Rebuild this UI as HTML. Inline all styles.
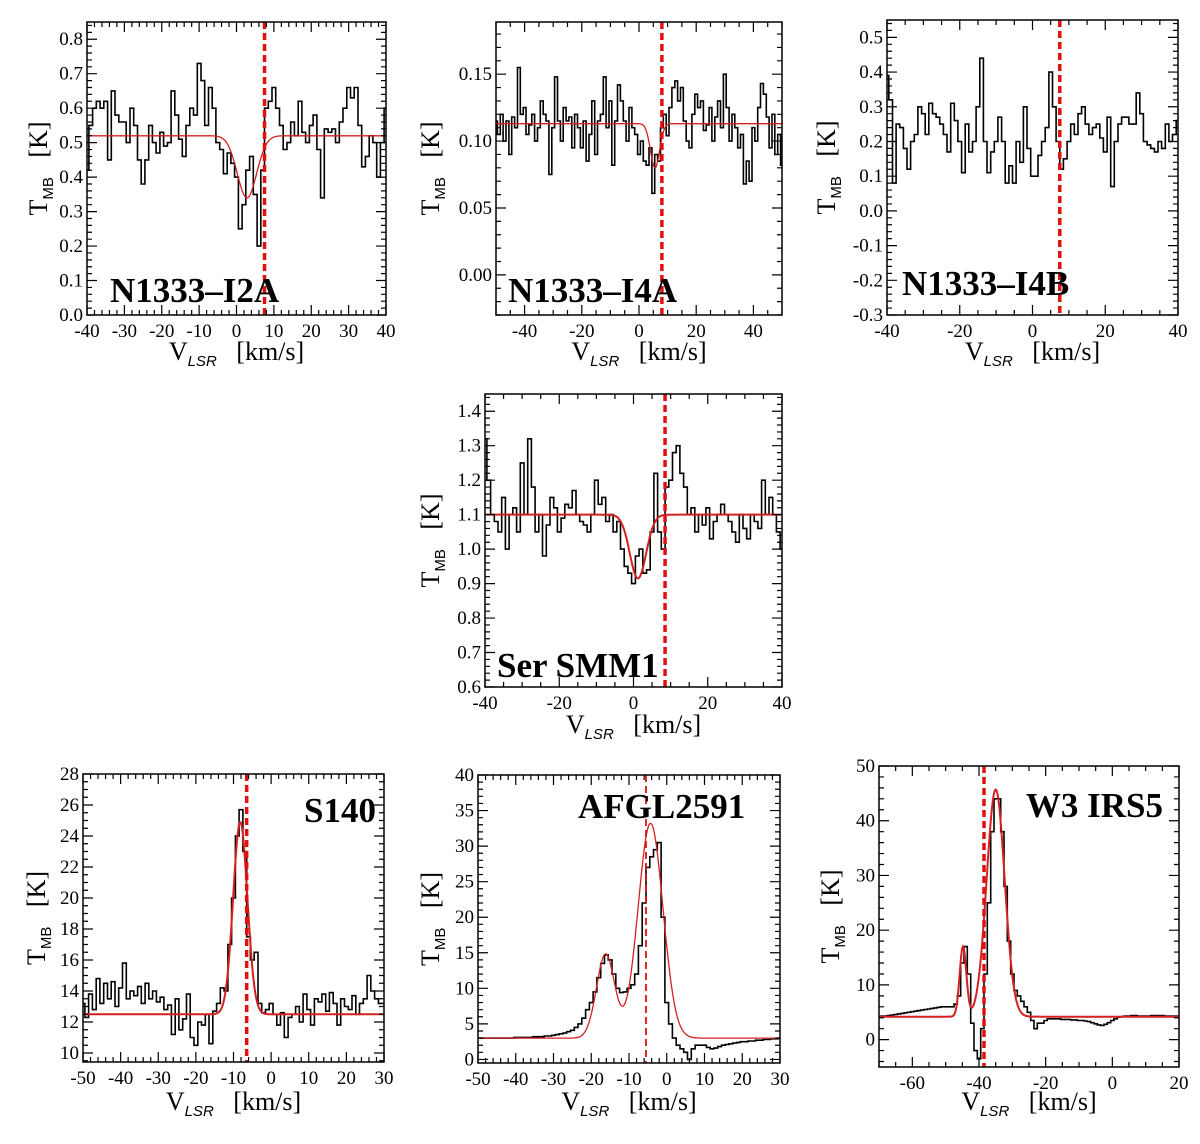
<!DOCTYPE html>
<html><head><meta charset="utf-8"><style>
html,body{margin:0;padding:0;background:#fff;}
svg{display:block;font-family:"Liberation Serif",serif;}
text{white-space:pre;}
</style></head><body>
<svg id="fig" width="1200" height="1144" viewBox="0 0 1200 1144" xmlns="http://www.w3.org/2000/svg"></svg>
<script>
// ---- data: observed spectra (1 km/s channels starting at vStart) ----
const i2aStart = -40;
const i2aTmb = [0.42,0.55,0.6,0.62,0.6,0.62,0.45,0.65,0.58,0.56,0.56,0.5,0.6,0.55,0.45,0.38,0.45,0.55,0.5,0.47,0.53,0.49,0.5,0.65,0.58,0.51,0.46,0.55,0.6,0.58,0.73,0.68,0.55,0.66,0.6,0.5,0.48,0.41,0.47,0.44,0.4,0.25,0.32,0.42,0.46,0.35,0.2,0.42,0.6,0.62,0.66,0.6,0.55,0.48,0.5,0.56,0.52,0.62,0.53,0.5,0.55,0.58,0.48,0.34,0.54,0.53,0.54,0.5,0.56,0.6,0.66,0.63,0.66,0.55,0.43,0.46,0.52,0.5,0.4,0.5,0.6];
const i4aStart = -50;
const i4aTmb = [0.115,0.105,0.12,0.10,0.115,0.09,0.118,0.11,0.155,0.12,0.125,0.105,0.112,0.12,0.10,0.11,0.13,0.12,0.115,0.075,0.11,0.148,0.115,0.1,0.125,0.115,0.118,0.095,0.12,0.11,0.095,0.115,0.085,0.105,0.13,0.09,0.115,0.12,0.148,0.11,0.13,0.082,0.115,0.142,0.13,0.115,0.1,0.125,0.11,0.105,0.09,0.1,0.085,0.082,0.095,0.061,0.09,0.085,0.11,0.12,0.104,0.125,0.14,0.145,0.13,0.14,0.115,0.1,0.095,0.12,0.135,0.125,0.13,0.108,0.112,0.125,0.1,0.118,0.13,0.11,0.15,0.125,0.1,0.12,0.11,0.095,0.105,0.068,0.085,0.07,0.11,0.1,0.125,0.143,0.135,0.118,0.095,0.12,0.09,0.105,0.082];
const i4bStart = -40;
const i4bTmb = [0.39,0.32,0.08,0.25,0.24,0.18,0.12,0.2,0.22,0.3,0.28,0.22,0.31,0.28,0.27,0.25,0.22,0.17,0.31,0.26,0.2,0.11,0.25,0.17,0.2,0.3,0.44,0.2,0.11,0.17,0.2,0.27,0.2,0.08,0.13,0.08,0.2,0.14,0.3,0.18,0.1,0.1,0.16,0.2,0.24,0.4,0.3,0.2,0.12,0.15,0.2,0.25,0.22,0.28,0.3,0.25,0.22,0.24,0.25,0.21,0.17,0.27,0.07,0.2,0.25,0.27,0.27,0.25,0.25,0.34,0.28,0.2,0.19,0.18,0.17,0.2,0.18,0.25,0.2,0.22,0.26];
const smmStart = -40;
const smmTmb = [1.32,1.2,1.1,1.08,1.05,1.15,1.0,1.1,1.12,1.05,1.25,1.1,1.32,1.18,1.05,1.1,0.98,1.07,1.15,1.12,1.05,1.09,1.13,1.12,1.17,1.1,1.08,1.07,1.05,1.1,1.2,1.13,1.15,1.08,1.1,1.05,1.08,1.0,0.95,0.93,0.9,0.98,1.0,0.93,0.94,1.05,1.22,1.05,1.0,1.18,1.2,1.28,1.3,1.22,1.18,1.1,1.12,1.05,1.1,1.07,1.12,1.03,1.08,1.1,1.13,1.1,1.08,1.05,1.02,1.1,1.06,1.03,1.1,1.08,1.06,1.2,1.1,1.15,1.1,1.05,1.0];
const s140Start = -50;
const s140Tmb = [13.2,12.3,13.8,12.8,14.8,13.2,14.5,13.5,14.6,13,14.2,15.8,13.5,14,13.7,14.3,13.2,14.5,13.5,14,13.3,13.6,12.8,13.1,11.2,13.5,11.5,12.2,13.8,11,10.5,12,11.8,12.5,10.6,12.7,13.2,14.2,14,17,20,24,25.7,23,17.5,16,16.5,13.2,12.6,12.8,13.2,12.5,11.8,12.6,11,12.3,12.5,13,12,13.8,12.8,11.8,13.5,13.3,13.8,12.7,13.9,13.2,11.8,13.5,13,12.8,13.7,12.5,13.2,13.5,15,14,13.5,13.2,13.2];
const afglStart = -50;
const afglTmb = [3,3,3,3,3,3,3,3,3,3,3.1,3.1,3.1,3.1,3.1,3.2,3.2,3.2,3.3,3.3,
 3.4,3.5,3.6,3.7,3.9,4.1,4.5,5,5.8,7,
 8,9.5,11.5,13.5,14.7,14,12,10,9.4,9.5,
 10,10.5,12,16,22,27,28.5,29.5,30.5,20,
 8,5,3,2,1.5,1,0,1.5,2,2,
 2,1.7,1.5,1.6,1.8,2,2.1,2.2,2.3,2.4,
 2.5,2.5,2.6,2.6,2.7,2.7,2.8,2.8,2.9,2.9,3];
const w3Start = -70;
const w3Tmb = [4.2,4.3,4.3,4.4,4.5,4.6,4.7,4.8,4.9,5,5.1,5.2,5.3,5.4,5.5,5.6,5.7,5.8,5.9,6,
 6,6,6,6.5,8,14,17,12,3,-2,
 -3.5,2,12,25,38,44,44,38,28,18,
 12,9,8,7,6,5,3.5,2,3,3,
 3.5,3.8,3.8,3.8,3.8,3.7,3.7,3.7,3.6,3.6,
 3.5,3.5,3.4,3.3,3.1,2.9,2.7,2.6,2.8,3.1,
 3.5,3.8,4.1,4.2,4.3,4.3,4.4,4.4,4.3,4.3,4.3,4.3,4.4,4.4,4.4,4.4,4.3,4.3,4.3,4.3,4.3];
// ---- data: gaussian fits (baseline, amplitudes, centres, sigmas) ----
const fitBase = {i2a:0.52, i4a:0.113, smm:1.1, s140:12.5, afgl:3.0, w3:4.2};
const fitAmp  = {i2a:[-0.18], i4a:[-0.033], smm:[-0.185], s140:[12.4], afgl:[11.8,30.2], w3:[12.8,41.5]};
const fitCen  = {i2a:[2.8], i4a:[5.6], smm:[1.2], s140:[-8.2], afgl:[-16.2,-4.3], w3:[-44.8,-35]};
const fitSig  = {i2a:[2.6], i4a:[1.6], smm:[2.2], s140:[1.9], afgl:[2.4,3.3], w3:[1.0,2.7]};
// ---- data: systemic velocities (dashed lines) ----
const vsys = {i2a:7.5, i4a:8.0, i4b:7.5, smm:8.5, s140:-6.5, afgl:-5.5, w3:-38.5};

const NS="http://www.w3.org/2000/svg";
const svg=document.getElementById('fig');
function mk(tag,attrs,parent){const e=document.createElementNS(NS,tag);for(const k in attrs)e.setAttribute(k,attrs[k]);(parent||svg).appendChild(e);return e;}

const panels=[
 {id:'i2a',title:'N1333–I2A',fx0:87,fx1:386,fy0:22,fy1:315,xr:[-40,40],yr:[0,0.85],xt:[-40,40,10],xm:2,yt:[0,0.8,0.1],ym:0.02,yd:1,data:i2aTmb,v0:i2aStart,tx:110,ty:302,anchor:'start',ytx:38,xty:360,dashW:3.5},
 {id:'i4a',title:'N1333–I4A',fx0:496,fx1:782,fy0:22,fy1:315,xr:[-50,50],yr:[-0.03,0.189],xt:[-40,40,20],xm:5,yt:[0,0.15,0.05],ym:0.01,yd:2,data:i4aTmb,v0:i4aStart,tx:508,ty:302,anchor:'start',ytx:430,xty:360,dashW:3.5},
 {id:'i4b',title:'N1333–I4B',fx0:887,fx1:1178,fy0:20,fy1:315,xr:[-40,40],yr:[-0.3,0.55],xt:[-40,40,20],xm:5,yt:[-0.3,0.5,0.1],ym:0.02,yd:1,data:i4bTmb,v0:i4bStart,tx:902,ty:295,anchor:'start',ytx:826,xty:360,dashW:3.5},
 {id:'smm',title:'Ser SMM1',fx0:485,fx1:782,fy0:394,fy1:687,xr:[-40,40],yr:[0.6,1.45],xt:[-40,40,20],xm:5,yt:[0.6,1.4,0.1],ym:0.02,yd:1,data:smmTmb,v0:smmStart,tx:497,ty:677,anchor:'start',ytx:430,xty:733,dashW:3.5},
 {id:'s140',title:'S140',fx0:83,fx1:384,fy0:774,fy1:1062,xr:[-50,30],yr:[9.42,28],xt:[-50,30,10],xm:2,yt:[10,28,2],ym:0.5,yd:0,data:s140Tmb,v0:s140Start,tx:376,ty:822,anchor:'end',ytx:36,xty:1110,dashW:3.5},
 {id:'afgl',title:'AFGL2591',fx0:478,fx1:780,fy0:775,fy1:1063,xr:[-50,30],yr:[-0.5,40],xt:[-50,30,10],xm:2,yt:[0,40,5],ym:1,yd:0,data:afglTmb,v0:afglStart,tx:578,ty:818,anchor:'start',ytx:430,xty:1110,dashW:1.8},
 {id:'w3',title:'W3 IRS5',fx0:879,fx1:1179,fy0:766,fy1:1067,xr:[-70,20],yr:[-5,50],xt:[-60,20,20],xm:5,yt:[0,50,10],ym:2,yd:0,data:w3Tmb,v0:w3Start,tx:1163,ty:817,anchor:'end',ytx:830,xty:1110,dashW:3.5}
];

panels.forEach(p=>{
 const g=mk('g',{});
 
 
 const X=v=>p.fx0+(v-p.xr[0])/(p.xr[1]-p.xr[0])*(p.fx1-p.fx0);
 const Y=t=>p.fy1-(t-p.yr[0])/(p.yr[1]-p.yr[0])*(p.fy1-p.fy0);
 const cid='clip-'+p.id;
 const cp=mk('clipPath',{id:cid},g);
 mk('rect',{x:p.fx0,y:p.fy0,width:p.fx1-p.fx0,height:p.fy1-p.fy0},cp);
 let d='';
 p.data.forEach((t,i)=>{const v=p.v0+i;const xa=X(v-0.5),xb=X(v+0.5),y=Y(t);d+=(i===0?'M':'L')+xa.toFixed(1)+','+y.toFixed(1)+'L'+xb.toFixed(1)+','+y.toFixed(1);});
 const sp=mk('path',{d:d,fill:'none',stroke:'#000','stroke-width':1.6,'clip-path':'url(#'+cid+')'},g);
 
 
 if(fitBase[p.id]!==undefined){
  let fd='';
  for(let k=0;k<=600;k++){const v=p.xr[0]+k*(p.xr[1]-p.xr[0])/600;let t=fitBase[p.id];
   fitAmp[p.id].forEach((a,j)=>{t+=a*Math.exp(-0.5*Math.pow((v-fitCen[p.id][j])/fitSig[p.id][j],2));});
   fd+=(k?'L':'M')+X(v).toFixed(1)+','+Y(t).toFixed(1);}
  const fp=mk('path',{d:fd,fill:'none',stroke:'#d42020','stroke-width':p.id==='s140'||p.id==='smm'||p.id==='w3'?2:1.3,'clip-path':'url(#'+cid+')'},g);
  
  
 }
 const vl=mk('line',{x1:X(vsys[p.id]),x2:X(vsys[p.id]),y1:p.fy0,y2:p.fy1,stroke:'#e01010','stroke-width':p.dashW,'stroke-dasharray':'7,4'},g);
 
 
 const fr=mk('rect',{x:p.fx0,y:p.fy0,width:p.fx1-p.fx0,height:p.fy1-p.fy0,fill:'none',stroke:'#000','stroke-width':1.5},g);
 
 
 let td='';
 for(let v=Math.ceil(p.xr[0]/p.xm)*p.xm;v<=p.xr[1]+1e-9;v+=p.xm){const x=X(v);const maj=Math.abs(v/p.xt[2]-Math.round(v/p.xt[2]))<1e-6;const L=maj?10:5;td+=`M${x},${p.fy1}v${-L}M${x},${p.fy0}v${L}`;}
 for(let t=Math.ceil(p.yr[0]/p.ym-1e-9)*p.ym;t<=p.yr[1]+1e-9;t+=p.ym){const y=Y(t);const r=(t-p.yt[0])/p.yt[2];const maj=Math.abs(r-Math.round(r))<1e-6;const L=maj?10:5;td+=`M${p.fx0},${y}h${L}M${p.fx1},${y}h${-L}`;}
 const tk=mk('path',{d:td,stroke:'#000','stroke-width':1.2,fill:'none'},g);
 
 
 for(let v=p.xt[0];v<=p.xt[1]+1e-9;v+=p.xt[2]){
  const tl=mk('text',{x:X(v),y:p.fy1+22,'text-anchor':'middle','font-size':19},g);
  tl.textContent=String(Math.round(v));
  
  
 }
 for(let t=p.yt[0];t<=p.yt[1]+1e-9;t+=p.yt[2]){
  const tl=mk('text',{x:p.fx0-4,y:Y(t)+6,'text-anchor':'end','font-size':19},g);
  tl.textContent=t.toFixed(p.yd).replace('-0.00','0.00');
  
  
 }
 const xtl=mk('text',{x:(p.fx0+p.fx1)/2,y:p.xty,'text-anchor':'middle','font-size':26},g);
 xtl.innerHTML='V<tspan font-size="15" font-style="italic" dy="6" font-family="Liberation Sans,sans-serif">LSR</tspan><tspan dy="-6">   [km/s]</tspan>';
 
 
 const cy=(p.fy0+p.fy1)/2;
 const ytl=mk('text',{x:0,y:0,'text-anchor':'middle','font-size':26,transform:`translate(${p.ytx+9},${cy}) rotate(-90)`},g);
 ytl.innerHTML='T<tspan font-size="15" dy="6" font-family="Liberation Sans,sans-serif">MB</tspan><tspan dy="-6">   [K]</tspan>';
 
 
 const tt=mk('text',{x:p.tx,y:p.ty,'text-anchor':p.anchor,'font-size':35,'font-weight':'bold'},g);
 tt.textContent=p.title;
 
 
});
</script>
</body></html>
